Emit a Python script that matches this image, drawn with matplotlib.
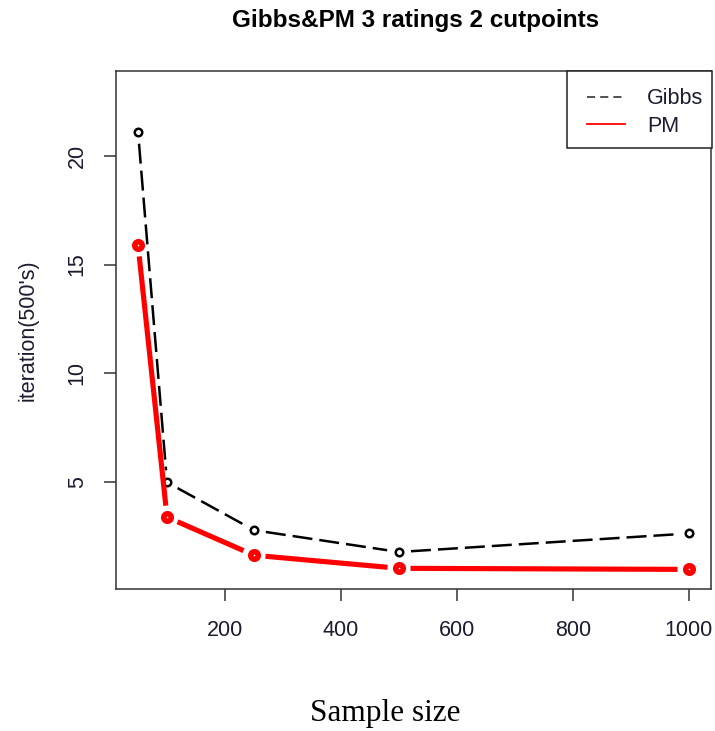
import matplotlib
matplotlib.use("Agg")
import matplotlib.pyplot as plt
import numpy as np
from matplotlib.lines import Line2D
from matplotlib.patches import Rectangle

sample_size = [50, 100, 250, 500, 1000]
gibbs_iters = [21.1, 5.0, 2.8, 1.8, 2.65]
pm_iters = [15.9, 3.4, 1.65, 1.05, 1.0]
x_ticks = [200, 400, 600, 800, 1000]
y_ticks = [5, 10, 15, 20]
series_names = ["Gibbs", "PM"]

plt.rcParams['font.family'] = ['Liberation Sans', 'DejaVu Sans']
txt = "#1c1c30"
W, H = 715, 731

fig = plt.figure(figsize=(W / 100, H / 100), dpi=100)
ax = fig.add_axes([116 / W, 1 - 589 / H, (711 - 116) / W, (589 - 71) / H])
ax.set_xlim(12, 1038)
ax.set_ylim(0.10, 23.89)


def gapped_segments(xs, ys, gap_px):
    """Segments between consecutive points, trimmed near each point (type='b' style)."""
    pts = ax.transData.transform(np.column_stack([xs, ys]))
    inv = ax.transData.inverted()
    segs = []
    for p0, p1 in zip(pts[:-1], pts[1:]):
        d = p1 - p0
        L = np.hypot(*d)
        if L <= 2 * gap_px:
            continue
        u = d / L
        a = inv.transform(p0 + u * gap_px)
        b = inv.transform(p1 - u * gap_px)
        segs.append(((a[0], b[0]), (a[1], b[1])))
    return segs


# Gibbs: dashed black segments with open circles
for sx, sy in gapped_segments(sample_size, gibbs_iters, 12):
    ax.plot(sx, sy, color="black", lw=1.8, ls=(0, (8, 2.8)), solid_capstyle="butt",
            dash_capstyle="butt", zorder=2)
ax.plot(sample_size, gibbs_iters, ls="none", marker="o", ms=5.4, mfc="white",
        mec="black", mew=1.8, zorder=3)

# PM: thick red segments with heavy circles
for sx, sy in gapped_segments(sample_size, pm_iters, 11.5):
    ax.plot(sx, sy, color="red", lw=3.7, solid_capstyle="butt", zorder=4)
ax.plot(sample_size, pm_iters, ls="none", marker="o", ms=5.4, mfc="white",
        mec="red", mew=4.0, zorder=5)

ax.set_xticks(x_ticks)
ax.set_yticks(y_ticks)
ax.tick_params(axis="both", length=8.5, width=1.1, color="#333333", labelsize=15.5, labelcolor=txt)
ax.tick_params(axis="x", pad=13.6)
ax.tick_params(axis="y", pad=11.8)
for lab in ax.get_yticklabels():
    lab.set_rotation(90)
    lab.set_va("center")
for s in ax.spines.values():
    s.set_linewidth(1.1)
    s.set_color("#333333")

ax.set_ylabel("iteration(500's)", fontsize=15.5, color=txt, labelpad=20.5)

fig.text(416 / W, 1 - 20 / H, "Gibbs&PM 3 ratings 2 cutpoints", fontsize=17.5,
         fontweight="bold", ha="center", va="center", color="black")
fig.text(385 / W, 1 - 713 / H, "Sample size", family=["Liberation Serif", "DejaVu Serif"],
         fontsize=22.5, ha="center", va="center", color="black")

# legend box in the top-right corner
fig.patches.append(Rectangle((567 / W, 1 - 148 / H), (712 - 567) / W, (148 - 71) / H,
                             transform=fig.transFigure, fill=True, facecolor="white",
                             edgecolor="#222222", lw=1.1, zorder=10))
legend_styles = [dict(color="#444444", lw=1.3, ls=(0, (4.5, 2.8))),
                 dict(color="red", lw=1.3, ls="-")]
for name, style, yp, ty in zip(series_names, legend_styles, [97, 124], [98, 126]):
    fig.lines.append(Line2D([587 / W, 625 / W], [1 - yp / H, 1 - yp / H],
                            transform=fig.transFigure, zorder=11, **style))
    fig.text(647 / W, 1 - ty / H, name, fontsize=15.5, color=txt, ha="left",
             va="center", zorder=12)

fig.savefig("out.png", dpi=100)
